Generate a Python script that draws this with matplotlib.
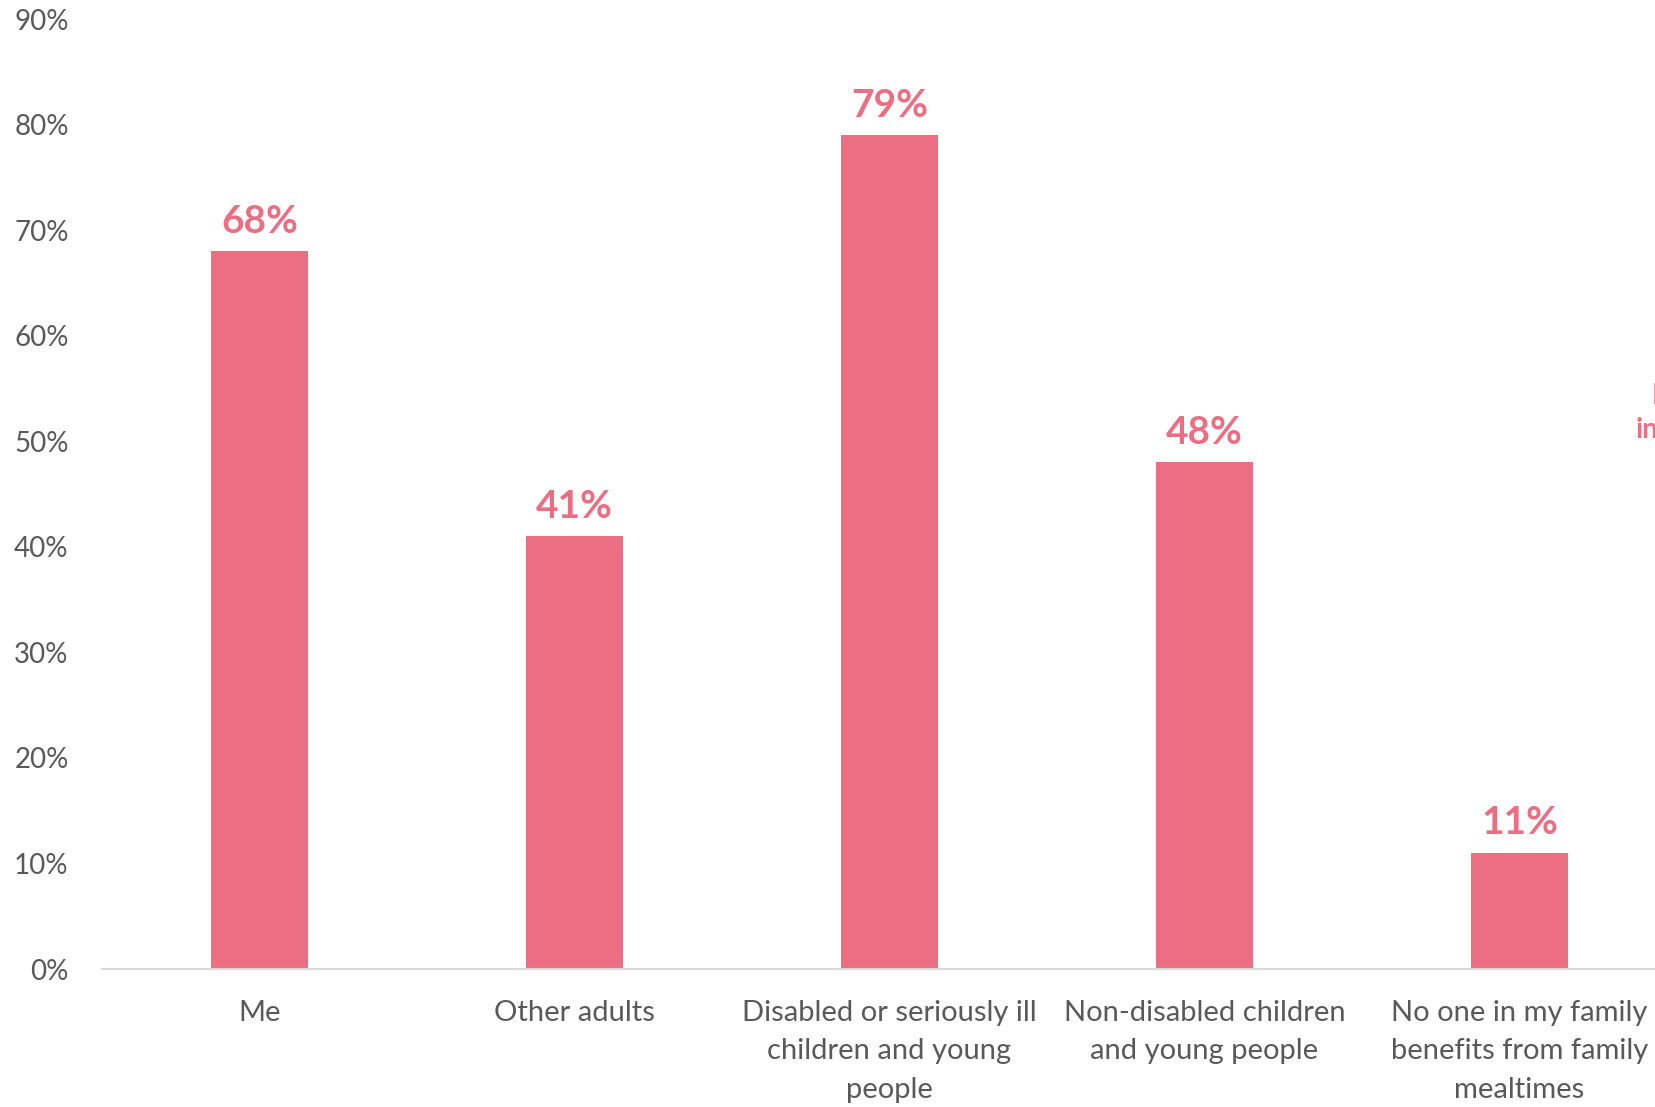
import matplotlib.pyplot as plt
from matplotlib.ticker import PercentFormatter

# who benefits from family mealtimes
categories = ["Me", "Other adults", "Disabled or seriously ill\nchildren and young\npeople",
              "Non-disabled children\nand young people", "No one in my family\nbenefits from family\nmealtimes"]
values = [68, 41, 79, 48, 11]
y_ticks = [0, 10, 20, 30, 40, 50, 60, 70, 80, 90]

pink = "#EC6E82"
grey = "#595959"

plt.rcParams['font.family'] = ['Lato', 'DejaVu Sans']

fig = plt.figure(figsize=(16.55, 11.07), dpi=100)
ax = fig.add_axes([102/1655, 1-969/1107, 1-102/1655, (969-19)/1107])

x = list(range(len(categories)))
bars = ax.bar(x, values, width=0.31, color=pink, zorder=2)

for b, v in zip(bars, values):
	ax.annotate(f"{v}%", (b.get_x()+b.get_width()/2, v), xytext=(0, 9), textcoords="offset points",
		ha="center", va="bottom", fontsize=28, fontweight="bold", color=pink)

ax.set_xlim(-0.5, (1655-102)/315 - 0.5)
ax.set_ylim(0, 90)
ax.set_yticks(y_ticks)
ax.yaxis.set_major_formatter(PercentFormatter(decimals=0))
ax.set_xticks(x)
ax.set_xticklabels(categories, linespacing=1.6, fontsize=21)

ax.tick_params(axis="both", length=0, labelsize=20, labelcolor=grey)
ax.tick_params(axis="x", labelsize=21, pad=22)
ax.tick_params(axis="y", pad=24)

for s in ["top", "right", "left"]:
	ax.spines[s].set_visible(False)
ax.spines["bottom"].set_color("#D9D9D9")
ax.spines["bottom"].set_linewidth(1.5)

# label of the next (cropped) category, cut by the figure edge as in the original
fig.text(1652/1655, 1-396/1107, "N", ha="left", va="center", fontsize=20, fontweight="bold", color=pink)
fig.text(1636/1655, 1-430/1107, "in", ha="left", va="center", fontsize=20, fontweight="bold", color=pink)

plt.savefig("out.png", dpi=100)
